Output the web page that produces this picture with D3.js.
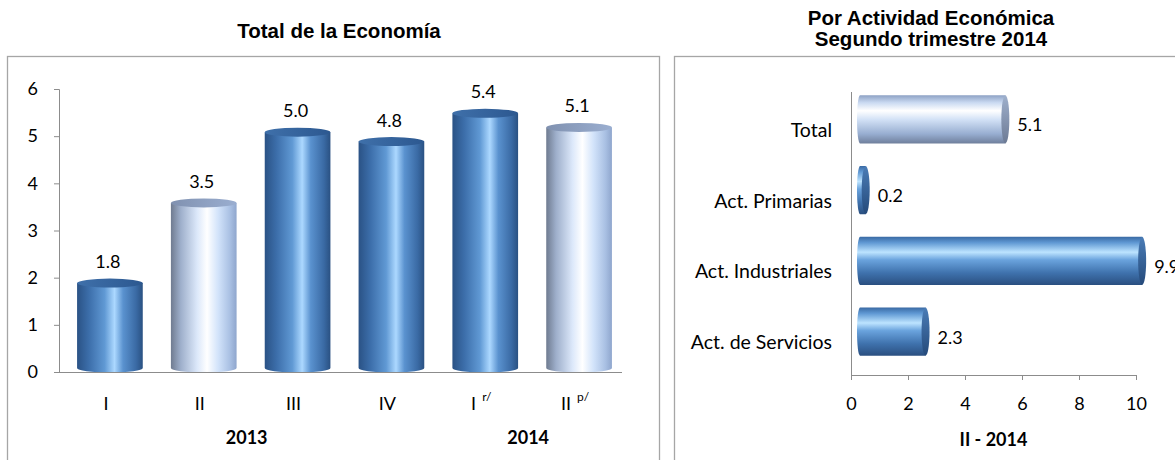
<!DOCTYPE html>
<html><head><meta charset="utf-8">
<script src="https://cdn.jsdelivr.net/npm/d3@7"></script>
<style>body{margin:0;background:#fff;} svg{display:block;}</style>
</head><body>
<svg id="c" width="1175" height="460"></svg>
<script>
// ---- data ----
const quarters = ["I","II","III","IV","I","II"];
const quarterSup = ["","","","","r/","p/"];
const quarterYears = ["2013","2014"];
const yearSpan = [[0,3],[4,5]];
const totalValues = [1.8,3.5,5.0,4.8,5.4,5.1];
const totalLight = [false,true,false,false,false,true];
const yTicks = [0,1,2,3,4,5,6];

const sectors = ["Total","Act. Primarias","Act. Industriales","Act. de Servicios"];
const sectorValues = [5.1,0.2,9.9,2.3];
const sectorLight = [true,false,false,false];
const xTicks = [0,2,4,6,8,10];

const svg = d3.select("#c");
const defs = svg.append("defs");
function grad(id, stops, vertical){
  const g = defs.append("linearGradient").attr("id",id)
    .attr("x1","0").attr("y1","0").attr("x2",vertical?"0":"1").attr("y2",vertical?"1":"0");
  stops.forEach(s=>g.append("stop").attr("offset",s[0]).attr("stop-color",s[1]));
}
const darkStops=[[0,"#2a5285"],[0.18,"#3c6eaa"],[0.42,"#6099d4"],[0.57,"#acd8ff"],[0.7,"#5a92cf"],[0.9,"#3a6aa4"],[1,"#2a5182"]];
const lightStops=[[0,"#6f7b90"],[0.15,"#9eafcb"],[0.4,"#dce8fa"],[0.55,"#ffffff"],[0.72,"#d2e3fa"],[0.9,"#a9c0e3"],[1,"#8fa6cd"]];
grad("gDark",darkStops,false);
grad("gLight",lightStops,false);
grad("gDarkCap",[[0,"#3f70aa"],[1,"#2c5890"]],false);
grad("gLightCap",[[0,"#8091b0"],[1,"#9aaed0"]],false);
grad("hDark",[[0,"#3a6aa4"],[0.12,"#5f98d3"],[0.32,"#bde4ff"],[0.48,"#6aa3dd"],[0.75,"#3f72ad"],[1,"#2a4f80"]],true);
grad("hLight",[[0,"#8ea2c5"],[0.15,"#c9d9f1"],[0.32,"#ffffff"],[0.5,"#d3e2f6"],[0.8,"#98aed1"],[1,"#6f7f9c"]],true);
grad("hDarkCap",[[0,"#4a7cb6"],[1,"#254a7a"]],true);
grad("hLightCap",[[0,"#9fb0cc"],[1,"#6c7a94"]],true);

const labelFont = "Lato, 'Open Sans', sans-serif";
const titleFont = "'Liberation Sans', Arial, sans-serif";

// panel borders
svg.append("rect").attr("x",7.5).attr("y",56.5).attr("width",652).attr("height",420)
  .attr("fill","none").attr("stroke","#a6a6a6").attr("stroke-width",1.3);
svg.append("rect").attr("x",674.5).attr("y",56.5).attr("width",520).attr("height",420)
  .attr("fill","none").attr("stroke","#a6a6a6").attr("stroke-width",1.3);

// titles
svg.append("text").attr("x",339).attr("y",38).attr("text-anchor","middle")
  .attr("font-family",titleFont).attr("font-weight","bold").attr("font-size",20.5).text("Total de la Economía");
svg.append("text").attr("x",931).attr("y",25).attr("text-anchor","middle")
  .attr("font-family",titleFont).attr("font-weight","bold").attr("font-size",20.5).text("Por Actividad Económica");
svg.append("text").attr("x",931).attr("y",46).attr("text-anchor","middle")
  .attr("font-family",titleFont).attr("font-weight","bold").attr("font-size",20.5).text("Segundo trimestre 2014");

// ---- left chart ----
const L = {x0:59, x1:622, y0:372, y1:89};
const xb = d3.scaleBand().domain(d3.range(quarters.length)).range([L.x0,L.x1]).paddingInner(0.3).paddingOuter(0.15);
const yl = d3.scaleLinear().domain([0,6]).range([L.y0,L.y1]);
const gl = svg.append("g");

const yAxis = d3.axisLeft(yl).tickValues(yTicks).tickSize(5).tickPadding(16).tickFormat(d3.format("d"));
const ya = gl.append("g").attr("transform",`translate(${L.x0},0)`).call(yAxis);
ya.select(".domain").attr("stroke","#8c8c8c");
ya.selectAll(".tick line").attr("stroke","#8c8c8c");
ya.selectAll("text").attr("font-family",labelFont).attr("font-size",18).attr("fill","#000");

const bw = xb.bandwidth(), rx = bw/2, ry = 4.5, sx = 4, sy = -4;
totalValues.forEach((v,i)=>{
  const cx = xb(i)+bw/2+sx;
  const top = yl(v)+sy, bot = yl(0)+sy;
  const body = totalLight[i]?"url(#gLight)":"url(#gDark)";
  const cap = totalLight[i]?"url(#gLightCap)":"url(#gDarkCap)";
  gl.append("path").attr("fill",body)
    .attr("d",`M${cx-rx},${top} L${cx-rx},${bot} A${rx},${ry} 0 0 0 ${cx+rx},${bot} L${cx+rx},${top} Z`);
  gl.append("ellipse").attr("cx",cx).attr("cy",top).attr("rx",rx).attr("ry",ry).attr("fill",cap);
  gl.append("text").attr("x",xb(i)+bw/2+2).attr("y",yl(v)-19).attr("text-anchor","middle")
    .attr("font-family",labelFont).attr("font-size",18).text(v.toFixed(1));
});
// x axis line
gl.append("line").attr("x1",L.x0).attr("x2",L.x1).attr("y1",L.y0+0.5).attr("y2",L.y0+0.5).attr("stroke","#8c8c8c");
quarters.forEach((q,i)=>{
  const t = gl.append("text").attr("x",xb(i)+bw/2).attr("y",410).attr("text-anchor","middle")
    .attr("font-family",labelFont).attr("font-size",18);
  t.append("tspan").text(q);
  if(quarterSup[i]){ t.append("tspan").attr("dx",6).attr("dy",-9).attr("font-size",12).text(quarterSup[i]); }
});
quarterYears.forEach((yr,k)=>{
  const a = xb(yearSpan[k][0])+bw/2, b = xb(yearSpan[k][1])+bw/2;
  gl.append("text").attr("x",(a+b)/2).attr("y",444).attr("text-anchor","middle")
    .attr("font-family",labelFont).attr("font-weight","bold").attr("font-size",18).text(yr);
});

// ---- right chart ----
const R = {x0:851, x1:1136, y0:92, y1:375};
const xr = d3.scaleLinear().domain([0,10]).range([R.x0,R.x1]);
const yb = d3.scaleBand().domain(d3.range(sectors.length)).range([R.y0,R.y1]).paddingInner(0.32).paddingOuter(0.16);
const gr = svg.append("g");
const xAxis = d3.axisBottom(xr).tickValues(xTicks).tickSize(5).tickPadding(17).tickFormat(d3.format("d"));
const xa = gr.append("g").attr("transform",`translate(0,${R.y1})`).call(xAxis);
xa.select(".domain").attr("stroke","#8c8c8c");
xa.selectAll(".tick line").attr("stroke","#8c8c8c");
xa.selectAll("text").attr("font-family",labelFont).attr("font-size",18).attr("fill","#000");
gr.append("line").attr("x1",R.x0+0.5).attr("x2",R.x0+0.5).attr("y1",R.y0).attr("y2",R.y1).attr("stroke","#8c8c8c");

const bh = yb.bandwidth(), hry = bh/2, hrx = 4, hx = 9, hy = -8;
sectorValues.forEach((v,i)=>{
  const cy = yb(i)+bh/2+hy;
  const x0 = xr(0)+hx, x1 = xr(v)+hx;
  const body = sectorLight[i]?"url(#hLight)":"url(#hDark)";
  const cap = sectorLight[i]?"url(#hLightCap)":"url(#hDarkCap)";
  gr.append("path").attr("fill",body)
    .attr("d",`M${x1},${cy-hry} L${x0},${cy-hry} A${3},${hry} 0 0 0 ${x0},${cy+hry} L${x1},${cy+hry} Z`);
  gr.append("ellipse").attr("cx",x1).attr("cy",cy).attr("rx",hrx).attr("ry",hry).attr("fill",cap);
  gr.append("text").attr("x",xr(v)+21).attr("y",yb(i)+bh/2+4).attr("font-family",labelFont).attr("font-size",18).text(v.toFixed(1));
  gr.append("text").attr("x",832).attr("y",yb(i)+bh/2+9.5).attr("text-anchor","end")
    .attr("font-family",labelFont).attr("font-size",19.5).text(sectors[i]);
});
gr.append("text").attr("x",(R.x0+R.x1)/2).attr("y",446).attr("text-anchor","middle")
  .attr("font-family",labelFont).attr("font-weight","bold").attr("font-size",18).text("II - 2014");
</script>
</body></html>
